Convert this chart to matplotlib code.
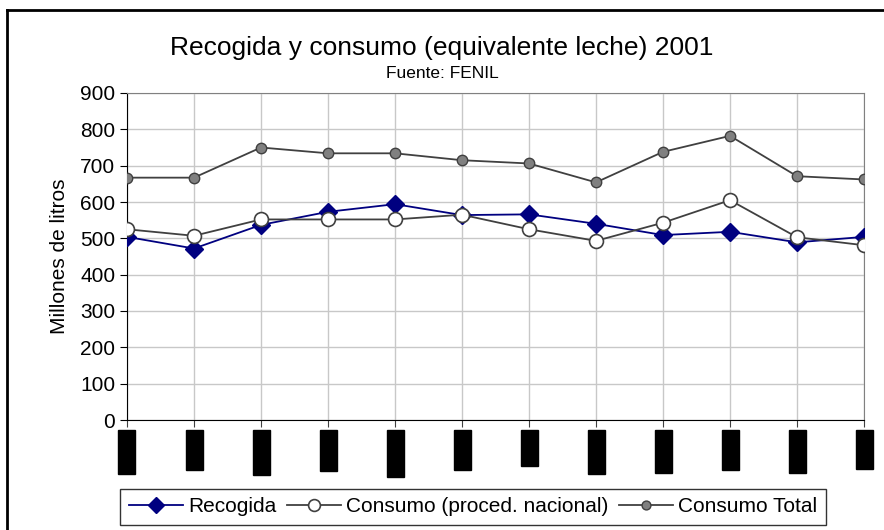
import matplotlib.pyplot as plt
from matplotlib.lines import Line2D

plt.rcParams['font.family'] = ['Liberation Sans', 'DejaVu Sans']

# Monthly data, millions of litres
meses = ["ene-01", "feb-01", "mar-01", "abr-01", "may-01", "jun-01",
         "jul-01", "ago-01", "sep-01", "oct-01", "nov-01", "dic-01"]
recogida = [504, 472, 537, 573, 594, 564, 566, 540, 509, 518, 489, 504]
consumo_nacional = [525, 507, 552, 552, 552, 565, 525, 493, 543, 605, 503, 481]
consumo_total = [667, 667, 750, 734, 734, 715, 706, 654, 738, 782, 671, 662]

fig = plt.figure(figsize=(8.84, 5.30), dpi=100)
ax = fig.add_axes([127 / 884, 1 - 420 / 530, 737 / 884, 327 / 530])

x = list(range(len(meses)))

ax.plot(x, recogida, color="#000080", lw=1.3, marker="D", ms=9,
        mfc="#000080", mec="#000080", label="Recogida", zorder=3)
ax.plot(x, consumo_nacional, color="#404040", lw=1.3, marker="o", ms=10,
        mfc="white", mec="#404040", mew=1.2,
        label="Consumo (proced. nacional)", zorder=4)
ax.plot(x, consumo_total, color="#404040", lw=1.3, marker="o", ms=7.5,
        mfc="#808080", mec="#404040", mew=1.0, label="Consumo Total",
        zorder=3)

ax.set_xlim(0, len(meses) - 1)
ax.set_ylim(0, 900)
ax.set_yticks(range(0, 901, 100))
ax.set_xticks(x)
ax.set_xticklabels(meses, rotation=90, fontsize=9, color="black",
                   va="top",
                   bbox=dict(boxstyle="square,pad=0.2", fc="black",
                             ec="black"))
ax.tick_params(axis="x", length=5, pad=4, direction="out", color="#404040")
ax.tick_params(axis="y", length=5, labelsize=15, direction="out")

ax.grid(True, color="#c8c8c8", lw=1.0)
ax.set_axisbelow(True)
for side in ["left", "bottom"]:
    ax.spines[side].set_color("black")
for side in ["top", "right"]:
    ax.spines[side].set_color("#808080")

ax.set_ylabel("Millones de litros", fontsize=15, labelpad=8)

fig.text(0.5, 1 - 48 / 530, "Recogida y consumo (equivalente leche) 2001",
         ha="center", va="center", fontsize=19)
fig.text(0.5, 1 - 74 / 530, "Fuente: FENIL", ha="center", va="center",
         fontsize=12.5)

leg = fig.legend(loc="lower left", bbox_to_anchor=(116 / 884, 1 / 530),
                 ncol=3, fontsize=15, frameon=True, fancybox=False,
                 edgecolor="black", handlelength=2.6, handletextpad=0.25,
                 columnspacing=0.5, borderpad=0.4, borderaxespad=0.2,
                 markerscale=0.85)
leg.get_frame().set_linewidth(1.0)

# outer chart frame
fig.add_artist(Line2D([7.5 / 884, 7.5 / 884], [0, 1 - 10 / 530],
                      color="black", lw=2.0))
fig.add_artist(Line2D([7.5 / 884, 1], [1 - 10 / 530, 1 - 10 / 530],
                      color="black", lw=2.0))

fig.savefig("out.png", dpi=100)
